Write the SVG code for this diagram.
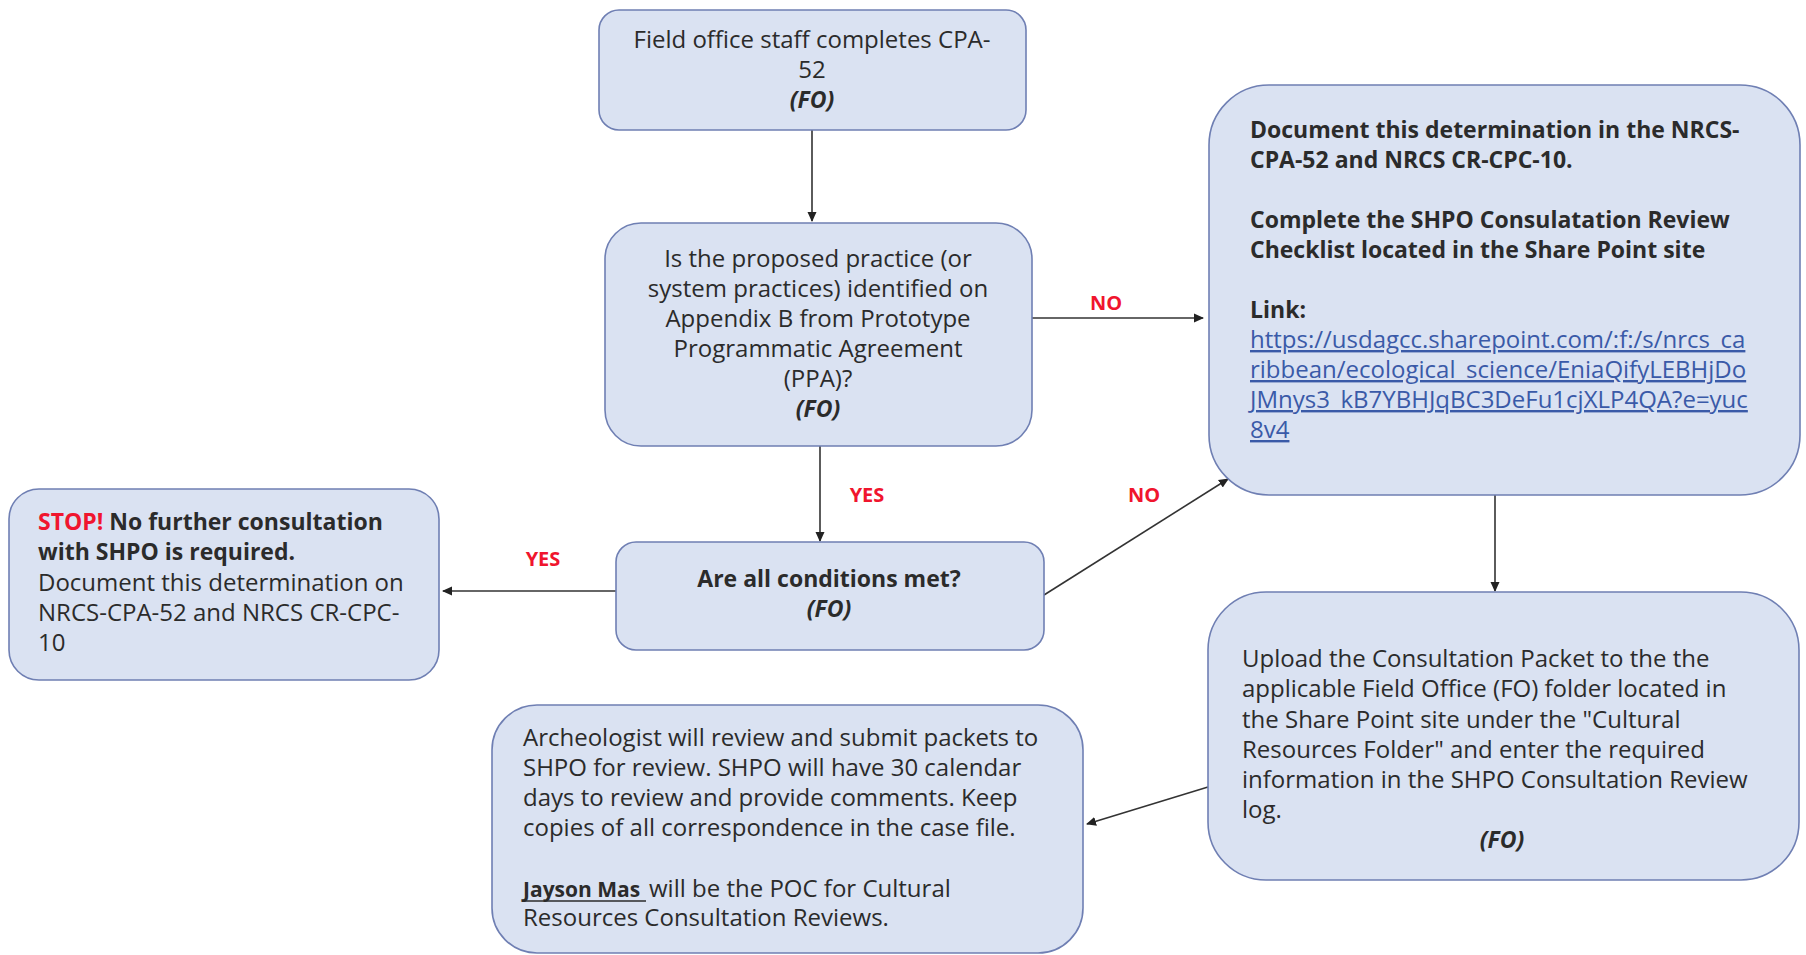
<svg xmlns="http://www.w3.org/2000/svg" width="1806" height="955" viewBox="0 0 1806 955">
<style>
.box{fill:#dae2f2;stroke:#6f7fb3;stroke-width:1.6}
.t{font-family:"Open Sans","Liberation Sans",sans-serif;font-size:24px;fill:#2b2b2b}
.c{text-anchor:middle}
.b{font-weight:bold;font-size:23px}
.fo{font-weight:bold;font-style:italic;font-size:23px}
.jm{font-weight:bold;font-size:21px}
.lbl{font-family:"Open Sans","Liberation Sans",sans-serif;font-size:20px;font-weight:bold;fill:#f0152e}
.red{fill:#f0152e}
.link{fill:#3a5aa8;text-decoration:underline}
.conn{stroke:#333;stroke-width:1.6;fill:none;marker-end:url(#ah)}
</style>
<defs>
<marker id="ah" viewBox="0 0 10 10" refX="9" refY="5" markerWidth="10" markerHeight="10" markerUnits="userSpaceOnUse" orient="auto">
<path d="M0,0.5 L10,5 L0,9.5 z" fill="#222"/>
</marker>
</defs>
<rect width="1806" height="955" fill="#ffffff"/>

<g id="connectors">
<line class="conn" x1="812" y1="130" x2="812" y2="221"/>
<line class="conn" x1="1032" y1="318" x2="1203" y2="318"/>
<line class="conn" x1="820" y1="446" x2="820" y2="541"/>
<line class="conn" x1="616" y1="591" x2="443" y2="591"/>
<line class="conn" x1="1044" y1="595" x2="1228" y2="479"/>
<line class="conn" x1="1495" y1="495" x2="1495" y2="591"/>
<line class="conn" x1="1208" y1="787" x2="1087" y2="824"/>
<text class="lbl c" x="1106" y="310">NO</text>
<text class="lbl c" x="867" y="502">YES</text>
<text class="lbl c" x="543" y="566">YES</text>
<text class="lbl c" x="1144" y="502">NO</text>
</g>

<g id="n1">
<rect class="box" x="599" y="10" width="427" height="120" rx="20"/>
<text class="t c" x="812" y="48">Field office staff completes CPA-</text>
<text class="t c" x="812" y="78">52</text>
<text class="t c fo" x="812" y="108">(FO)</text>
</g>

<g id="n2">
<rect class="box" x="605" y="223" width="427" height="223" rx="36"/>
<text class="t c" x="818" y="267">Is the proposed practice (or</text>
<text class="t c" x="818" y="297">system practices) identified on</text>
<text class="t c" x="818" y="327">Appendix B from Prototype</text>
<text class="t c" x="818" y="357">Programmatic Agreement</text>
<text class="t c" x="818" y="387">(PPA)?</text>
<text class="t c fo" x="818" y="417">(FO)</text>
</g>

<g id="n3">
<rect class="box" x="1209" y="85" width="591" height="410" rx="60"/>
<text class="t b" x="1250" y="138">Document this determination in the NRCS-</text>
<text class="t b" x="1250" y="168">CPA-52 and NRCS CR-CPC-10.</text>
<text class="t b" x="1250" y="228">Complete the SHPO Consulatation Review</text>
<text class="t b" x="1250" y="258">Checklist located in the Share Point site</text>
<text class="t b" x="1250" y="318">Link:</text>
<text class="t link" x="1250" y="348">https://usdagcc.sharepoint.com/:f:/s/nrcs_ca</text>
<text class="t link" x="1250" y="378">ribbean/ecological_science/EniaQifyLEBHjDo</text>
<text class="t link" x="1250" y="408">JMnys3_kB7YBHJqBC3DeFu1cjXLP4QA?e=yuc</text>
<text class="t link" x="1250" y="438">8v4</text>
</g>

<g id="n4">
<rect class="box" x="9" y="489" width="430" height="191" rx="30"/>
<text class="t b" x="38" y="530"><tspan class="red">STOP!</tspan> No further consultation</text>
<text class="t b" x="38" y="560">with SHPO is required.</text>
<text class="t" x="38" y="591">Document this determination on</text>
<text class="t" x="38" y="621">NRCS-CPA-52 and NRCS CR-CPC-</text>
<text class="t" x="38" y="651">10</text>
</g>

<g id="n5">
<rect class="box" x="616" y="542" width="428" height="108" rx="20"/>
<text class="t c b" x="829" y="587">Are all conditions met?</text>
<text class="t c fo" x="829" y="617">(FO)</text>
</g>

<g id="n6">
<rect class="box" x="1208" y="592" width="591" height="288" rx="58"/>
<text class="t" x="1242" y="667">Upload the Consultation Packet to the the</text>
<text class="t" x="1242" y="697">applicable Field Office (FO) folder located in</text>
<text class="t" x="1242" y="728">the Share Point site under the "Cultural</text>
<text class="t" x="1242" y="758">Resources Folder" and enter the required</text>
<text class="t" x="1242" y="788">information in the SHPO Consultation Review</text>
<text class="t" x="1242" y="818">log.</text>
<text class="t c fo" x="1502" y="848">(FO)</text>
</g>

<g id="n7">
<rect class="box" x="492" y="705" width="591" height="248" rx="45"/>
<text class="t" x="523" y="746">Archeologist will review and submit packets to</text>
<text class="t" x="523" y="776">SHPO for review. SHPO will have 30 calendar</text>
<text class="t" x="523" y="806">days to review and provide comments. Keep</text>
<text class="t" x="523" y="836">copies of all correspondence in the case file.</text>
<text class="t jm" x="523" y="897">Jayson Mas</text>
<line x1="523" y1="901" x2="646" y2="901" stroke="#2b2b2b" stroke-width="1.6"/>
<text class="t" x="649" y="897">will be the POC for Cultural</text>
<text class="t" x="523" y="926">Resources Consultation Reviews.</text>
</g>
</svg>
